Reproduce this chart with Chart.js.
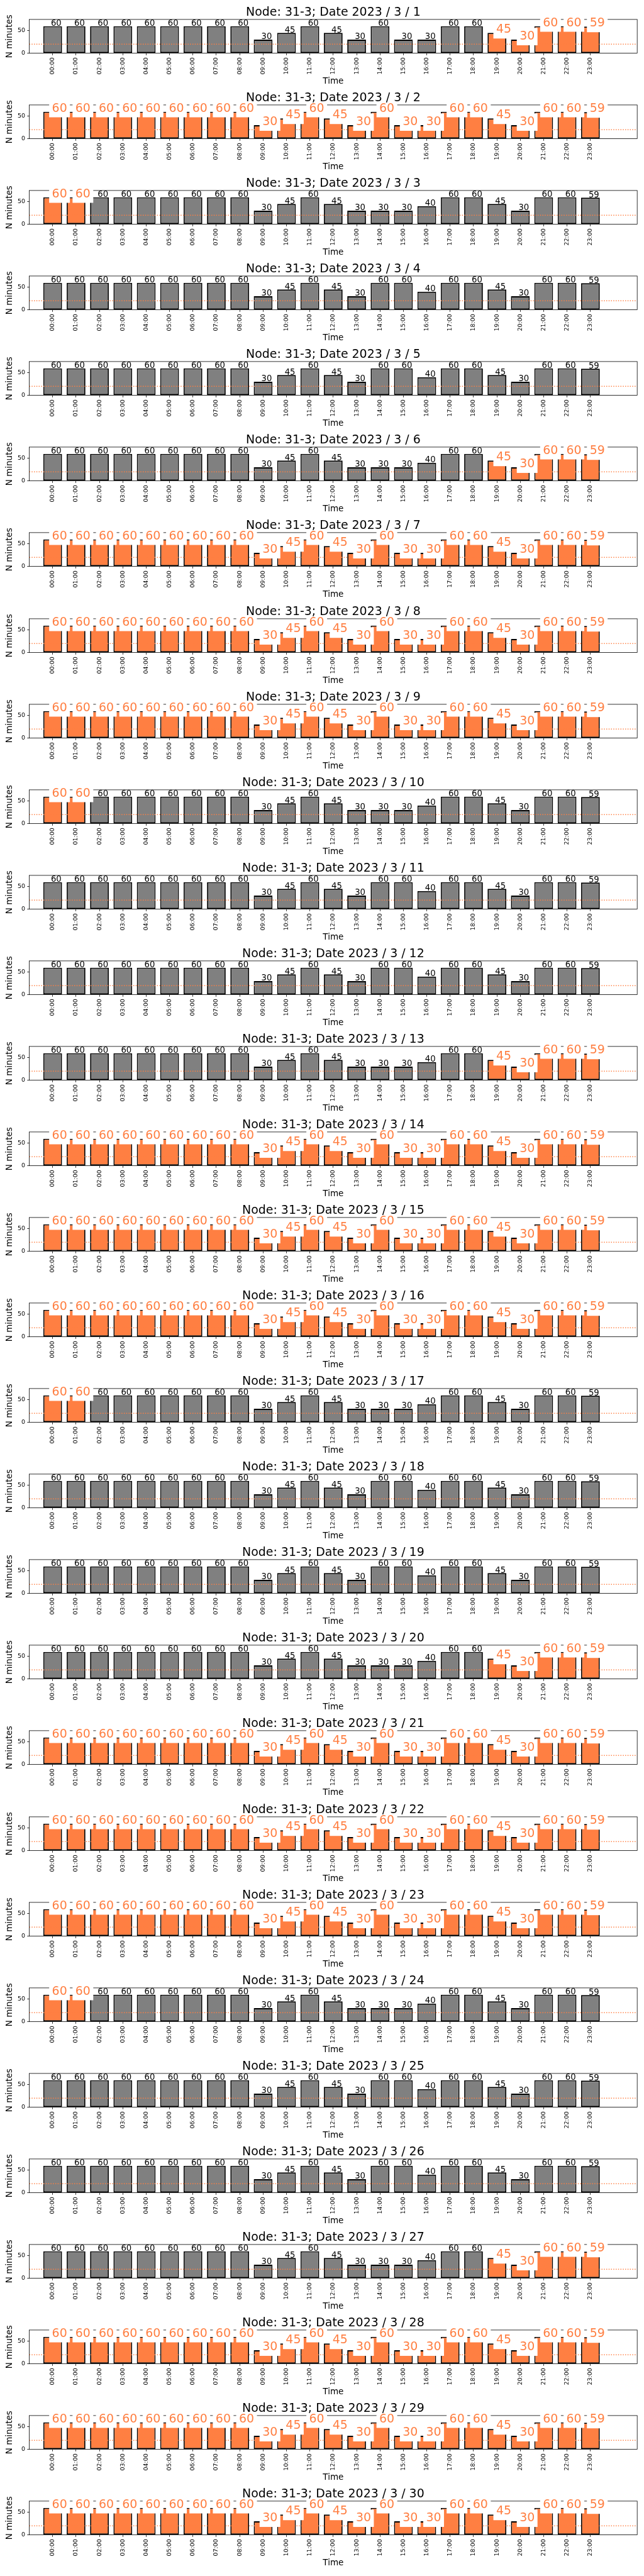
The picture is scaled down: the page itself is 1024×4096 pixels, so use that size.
<!DOCTYPE html>
<html>
<head>
<meta charset="utf-8">
<script src="https://cdn.jsdelivr.net/npm/chart.js@4.4.0/dist/chart.umd.min.js"></script>
<style>
  body { margin: 0; background: #fff; width: 1024px; height: 4096px; position: relative; overflow: hidden; }
  canvas { position: absolute; left: 0; }
</style>
</head>
<body>
<div id="charts"></div>
<script>
// values, one panel per day
const nodeName = '31-3';
const year = 2023;
const month = 3;
const days = [1, 2, 3, 4, 5, 6, 7, 8, 9, 10, 11, 12, 13, 14, 15, 16, 17, 18, 19, 20, 21, 22, 23, 24, 25, 26, 27, 28, 29, 30];

const hours = [0, 1, 2, 3, 4, 5, 6, 7, 8, 9, 10, 11, 12, 13, 14, 15, 16, 17, 18, 19, 20, 21, 22, 23];
const hourLabels = ['00:00', '01:00', '02:00', '03:00', '04:00', '05:00', '06:00', '07:00', '08:00', '09:00', '10:00', '11:00',
                    '12:00', '13:00', '14:00', '15:00', '16:00', '17:00', '18:00', '19:00', '20:00', '21:00', '22:00', '23:00'];

// three different daily profiles show up in the picture
const weekdayMinutes = [60, 60, 60, 60, 60, 60, 60, 60, 60, 30, 45, 60, 45, 30, 60, 30, 30, 60, 60, 45, 30, 60, 60, 59];
const shortMinutes   = [60, 60, 60, 60, 60, 60, 60, 60, 60, 30, 45, 60, 45, 30, 30, 30, 40, 60, 60, 45, 30, 60, 60, 59];
const weekendMinutes = [60, 60, 60, 60, 60, 60, 60, 60, 60, 30, 45, 60, 45, 30, 60, 60, 40, 60, 60, 45, 30, 60, 60, 59];

const dayProfile = ['weekday', 'weekday', 'short', 'weekend', 'weekend', 'short', 'weekday',
                    'weekday', 'weekday', 'short', 'weekend', 'weekend', 'short', 'weekday',
                    'weekday', 'weekday', 'short', 'weekend', 'weekend', 'short', 'weekday',
                    'weekday', 'weekday', 'short', 'weekend', 'weekend', 'short', 'weekday',
                    'weekday', 'weekday'];

// which hours are flagged (orange) on each day
const earlyHours = [0, 1];
const lateHours = [19, 20, 21, 22, 23];
const dayFlagged = ['late', 'all', 'early', 'none', 'none', 'late', 'all',
                    'all', 'all', 'early', 'none', 'none', 'late', 'all',
                    'all', 'all', 'early', 'none', 'none', 'late', 'all',
                    'all', 'all', 'early', 'none', 'none', 'late', 'all',
                    'all', 'all'];

const thresholdMinutes = 20;
const yMax = 75;
const yTicks = [0, 50];

// ---- layout (reference px * 0.682) ----
const S = 0.682;
const PITCH = 199.52 * S;
const CANVAS_H = 137;
const AX_TOP = 45.3 * S;
const AX_BOTTOM = 124 * S;
const AX_LEFT = 68.3 * S;
const AX_RIGHT = 1485.6 * S;
const FONT = '"DejaVu Sans", sans-serif';
const ORANGE = '#ff7f42';
const GRAY = '#808080';

const profiles = { weekday: weekdayMinutes, short: shortMinutes, weekend: weekendMinutes };
const flagSets = { early: earlyHours, late: lateHours, all: hours, none: [] };

// frame round the plot area (drawn under the bars and the labels)
const framePlugin = {
    id: 'frame',
    beforeDatasetsDraw(chart) {
        const a = chart.chartArea;
        const ctx = chart.ctx;
        ctx.save();
        ctx.strokeStyle = '#000';
        ctx.lineWidth = 0.8;
        ctx.strokeRect(a.left, a.top, a.right - a.left, a.bottom - a.top);
        ctx.restore();
    }
};

// value labels: black for normal bars, big orange on a white box for flagged ones
const labelPlugin = {
    id: 'valueLabels',
    afterDatasetsDraw(chart) {
        const ctx = chart.ctx;
        const xs = chart.scales.x, ys = chart.scales.y;
        const meta = chart.getDatasetMeta(1);
        const ds = chart.data.datasets[1];
        ctx.save();
        ctx.textBaseline = 'alphabetic';
        ctx.textAlign = 'left';
        ds.data.forEach((p, i) => {
            const cx = xs.getPixelForValue(p.x);
            const y = ys.getPixelForValue(p.y);
            const text = String(p.y);
            if (ds.flagged[i]) {
                ctx.font = (27.8 * S) + 'px ' + FONT;
                const w = ctx.measureText(text).width;
                const x0 = cx - 1.7 * S;
                ctx.fillStyle = '#fff';
                ctx.fillRect(x0 - 6.5 * S, y - 27.5 * S, w + 13 * S, 40.5 * S);
                ctx.fillStyle = ORANGE;
                ctx.fillText(text, x0, y);
            } else {
                ctx.font = (19.4 * S) + 'px ' + FONT;
                ctx.fillStyle = '#000';
                ctx.fillText(text, cx - 4.2 * S, y - 1 * S);
            }
        });
        ctx.restore();
    },
    afterDraw(chart) {
        const ctx = chart.ctx;
        const a = chart.chartArea;
        const midX = (a.left + a.right) / 2;
        ctx.save();
        ctx.fillStyle = '#000';
        ctx.textAlign = 'center';
        ctx.textBaseline = 'alphabetic';
        ctx.font = (27.8 * S) + 'px ' + FONT;
        ctx.fillText(chart.options.panelTitle, midX, 36.7 * S);
        ctx.font = (19.8 * S) + 'px ' + FONT;
        ctx.fillText('Time', midX, 195 * S);
        ctx.translate(22.4 * S, (a.top + a.bottom) / 2);
        ctx.rotate(-Math.PI / 2);
        ctx.textBaseline = 'middle';
        ctx.fillText('N minutes', 0, 0);
        ctx.restore();
    }
};

function makePanel(dayIndex)
{
    const day = days[dayIndex];
    const minutes = profiles[dayProfile[dayIndex]];
    const flaggedHours = flagSets[dayFlagged[dayIndex]];
    const flagged = hours.map(h => flaggedHours.includes(h));

    const canvas = document.createElement('canvas');
    canvas.width = 1024;
    canvas.height = CANVAS_H;
    canvas.style.top = (dayIndex * PITCH) + 'px';
    document.getElementById('charts').appendChild(canvas);

    const tickFont = { family: FONT, size: 13.9 * S };

    new Chart(canvas, {
        type: 'bar',
        data: {
            datasets: [
                {
                    type: 'line',
                    data: [{ x: -1, y: thresholdMinutes }, { x: 25, y: thresholdMinutes }],
                    borderColor: ORANGE,
                    borderWidth: 1.42,
                    borderDash: [1.42, 2.34],
                    pointRadius: 0,
                    order: 0
                },
                {
                    type: 'bar',
                    data: hours.map((h, i) => ({ x: h, y: minutes[i] })),
                    flagged: flagged,
                    backgroundColor: flagged.map(f => f ? ORANGE : GRAY),
                    borderColor: '#000',
                    borderWidth: 1.8,
                    borderSkipped: false,
                    barPercentage: 0.8,
                    categoryPercentage: 1,
                    order: 1
                }
            ]
        },
        options: {
            panelTitle: `Node: ${nodeName}; Date ${year} / ${month} / ${day}`,
            responsive: false,
            animation: false,
            devicePixelRatio: 1,
            layout: { padding: { top: AX_TOP, right: 1024 - AX_RIGHT, left: 0, bottom: 0 } },
            plugins: { legend: { display: false }, tooltip: { enabled: false }, title: { display: false } },
            scales: {
                x: {
                    type: 'linear',
                    min: -1,
                    max: 25,
                    offset: false,
                    afterBuildTicks: (scale) => { scale.ticks = hours.map(v => ({ value: v })); },
                    afterFit: (scale) => { scale.height = CANVAS_H - AX_BOTTOM; },
                    ticks: {
                        autoSkip: false,
                        minRotation: 90,
                        maxRotation: 90,
                        padding: 3.3,
                        color: '#000',
                        font: tickFont,
                        callback: (v) => hourLabels[v]
                    },
                    grid: { offset: false, drawOnChartArea: false, drawTicks: true, tickLength: 3.3, color: '#000', lineWidth: 0.8 },
                    border: { display: false }
                },
                y: {
                    min: 0,
                    max: yMax,
                    afterBuildTicks: (scale) => { scale.ticks = yTicks.map(v => ({ value: v })); },
                    afterFit: (scale) => { scale.width = AX_LEFT; },
                    ticks: { padding: 3.3, color: '#000', font: tickFont },
                    grid: { drawOnChartArea: false, drawTicks: true, tickLength: 3.3, color: '#000', lineWidth: 0.8 },
                    border: { display: false }
                }
            }
        },
        plugins: [framePlugin, labelPlugin]
    });
}

for (let i = 0; i < days.length; i++)
{
    makePanel(i);
}
</script>
</body>
</html>
